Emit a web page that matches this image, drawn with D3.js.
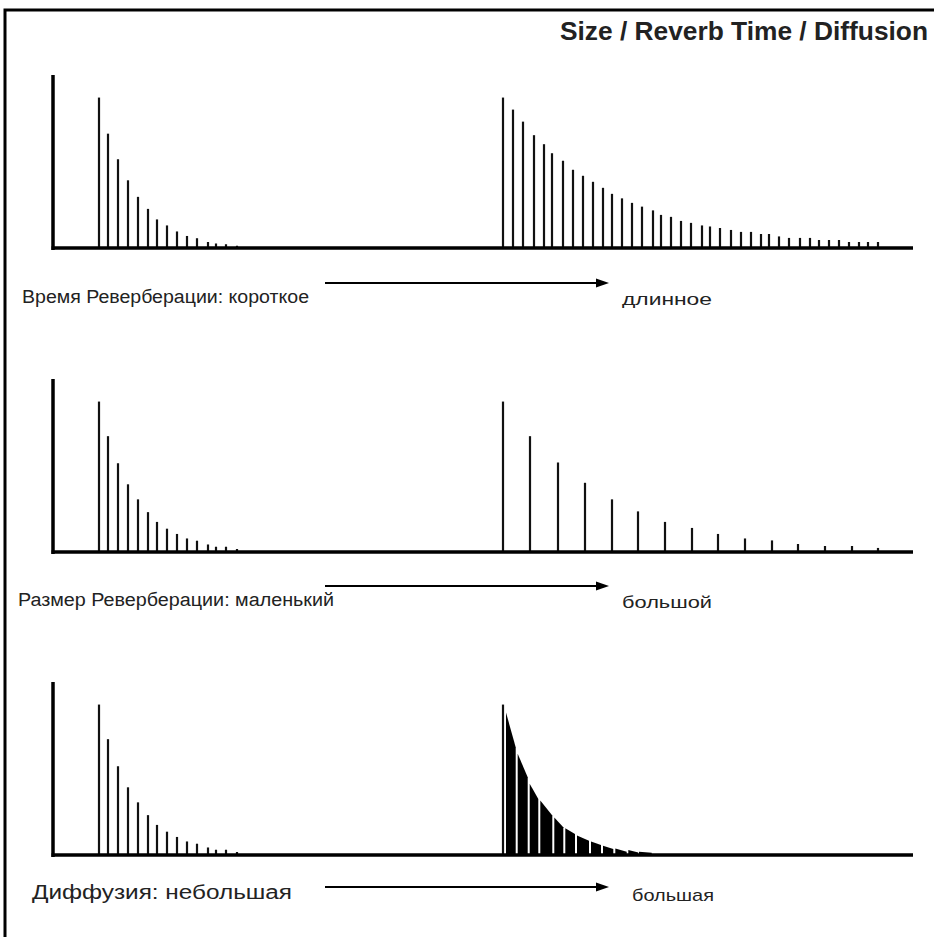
<!DOCTYPE html>
<html><head><meta charset="utf-8">
<script src="https://cdn.jsdelivr.net/npm/d3@7"></script>
<style>body{margin:0;background:#fff}svg{display:block}</style>
</head><body>
<script>
// ---------- data ----------
const titleText = "Size / Reverb Time / Diffusion";
const panelNames = ["time", "size", "diffusion"];
const leftLabels = ["Время Реверберации: короткое", "Размер Реверберации: маленький", "Диффузия: небольшая"];
const rightLabels = ["длинное", "большой", "большая"];

// time axis in pixels-like units (0..860), amplitude in % of first reflection
// panel 1 (reverb time)
const shortTimeT = [46,55,65,75,85,95,104,114,124,134,144,155,163,173,184];
const shortTimeA = [100,76,59,45,34,26,19,15,11,8,6.5,4,3,2.5,1.5];
const longTimeT = [450,460,470,481,491,499,510,520,530,540,550,559,569,579,589,600,608,618,628,638,649,657,667,678,688,698,708,716,726,736,747,757,766,776,786,796,806,815,825];
const longTimeA = [100,92,84,75,69,63,58,52,48,44,40,36,33,30,27.5,25,22,20.7,18,16.7,15,14.3,13.3,12,10.7,10.7,9.3,9.3,7.7,6.7,6.7,6.7,5.3,5.3,5.3,4,4,4,4];
// panel 2 (size)
const smallSizeT = [46,55,65,75,85,95,104,114,124,134,144,155,163,173,184];
const smallSizeA = [100,77,59,45,35,26.5,20,15.5,12,9,7.5,5,3.5,3.5,2];
const largeSizeT = [450,477,505,532,559,585,612,639,665,692,719,745,772,799,825];
const largeSizeA = [100,77,59.5,46,35,27,20,16,12,9,7.7,5.3,4,4,2.7];
// panel 3 (diffusion)
const lowDiffT = [46,55,65,75,85,95,104,114,124,134,144,155,163,173,184];
const lowDiffA = [100,77,59,45,35,26.5,20,15.5,12,9,7.5,5,3.5,3.5,2];
const highDiffFirstT = [450];
const highDiffFirstA = [100];
const highDiffStart = [453,464.7,476.7,487.3,501.3,512.3,524,538,550,562.3,575.3,586];
const highDiffEnd   = [462.7,474.7,485.3,499.3,510.3,522,536,548,560.3,573.7,585.3,598.7];
const highDiffAStart = [94.7,67.3,47.3,36.2,25,17.7,12.9,8.9,6.2,4.4,3.3,2.2];
const highDiffAEnd   = [71.7,51.7,37.3,26.2,18.4,14,9.5,6.7,4,2.2,1.7,1.5];

// ---------- drawing ----------
const W = 934, H = 937;
const svg = d3.select("body").append("svg").attr("width", W).attr("height", H);
const font = "'Liberation Sans', Arial, Helvetica, sans-serif";

// frame (top + left edges visible)
svg.append("path").attr("d", `M5,${H} V10 H${W}`).attr("fill", "none")
  .attr("stroke", "#000").attr("stroke-width", 3);

svg.append("text").attr("x", 928).attr("y", 40).attr("text-anchor", "end")
  .attr("font-family", font).attr("font-weight", "bold").attr("font-size", 25)
  .attr("fill", "#222").attr("textLength", 368).attr("lengthAdjust", "spacingAndGlyphs")
  .text(titleText);

const x = d3.scaleLinear().domain([0, 860]).range([53, 913]);

const layout = [
  {base: 248, label: {y: 303, lx: 22, lw: 287, ls: 18, rx: 622, rw: 90, ay: 283}},
  {base: 552, label: {y: 606, lx: 18, lw: 316, ls: 18, rx: 622, rw: 90, ay: 586}},
  {base: 855, label: {y: 899, lx: 32, lw: 260, ls: 19.5, rx: 632, rw: 82, ay: 887}}
];
const series = [
  [{t: shortTimeT, a: shortTimeA}, {t: longTimeT, a: longTimeA}],
  [{t: smallSizeT, a: smallSizeA}, {t: largeSizeT, a: largeSizeA}],
  [{t: lowDiffT, a: lowDiffA}, {t: highDiffFirstT, a: highDiffFirstA}]
];

panelNames.forEach((name, i) => {
  const L = layout[i];
  const y = d3.scaleLinear().domain([0, 115]).range([L.base, L.base - 173]);
  const g = svg.append("g").attr("class", "panel-" + name);

  // stems
  series[i].forEach(s => {
    g.selectAll(null).data(d3.zip(s.t, s.a)).join("line")
      .attr("x1", d => x(d[0])).attr("x2", d => x(d[0]))
      .attr("y1", y(0)).attr("y2", d => y(d[1]))
      .attr("stroke", "#111").attr("stroke-width", 2.2);
  });

  if (name === "diffusion") {
    const blocks = d3.range(highDiffStart.length).map(k => [highDiffStart[k], highDiffEnd[k], highDiffAStart[k], highDiffAEnd[k]]);
    g.selectAll(null).data(blocks).join("path")
      .attr("d", d => `M${x(d[0])},${y(0)} L${x(d[0])},${y(d[2])} L${x(d[1])},${y(d[3])} L${x(d[1])},${y(0)} Z`)
      .attr("fill", "#000");
  }

  // axes
  g.append("line").attr("x1", x(0)).attr("x2", x(0)).attr("y1", y(115)).attr("y2", y(0) + 2)
    .attr("stroke", "#000").attr("stroke-width", 3.5);
  g.append("line").attr("x1", x(0) - 1.5).attr("x2", x(860)).attr("y1", y(0)).attr("y2", y(0))
    .attr("stroke", "#000").attr("stroke-width", 3.5);

  // labels + arrow
  const lab = L.label;
  g.append("text").attr("x", lab.lx).attr("y", lab.y).attr("font-family", font).attr("font-size", lab.ls)
    .attr("fill", "#222").attr("textLength", lab.lw).attr("lengthAdjust", "spacingAndGlyphs").text(leftLabels[i]);
  g.append("text").attr("x", lab.rx).attr("y", lab.y + 2).attr("font-family", font).attr("font-size", 17)
    .attr("fill", "#222").attr("textLength", lab.rw).attr("lengthAdjust", "spacingAndGlyphs").text(rightLabels[i]);
  g.append("line").attr("x1", 325).attr("x2", 598).attr("y1", lab.ay).attr("y2", lab.ay)
    .attr("stroke", "#000").attr("stroke-width", 1.8);
  g.append("path").attr("d", `M596,${lab.ay - 4.5} L609,${lab.ay} L596,${lab.ay + 4.5} Z`).attr("fill", "#000");
});
</script>
</body></html>
